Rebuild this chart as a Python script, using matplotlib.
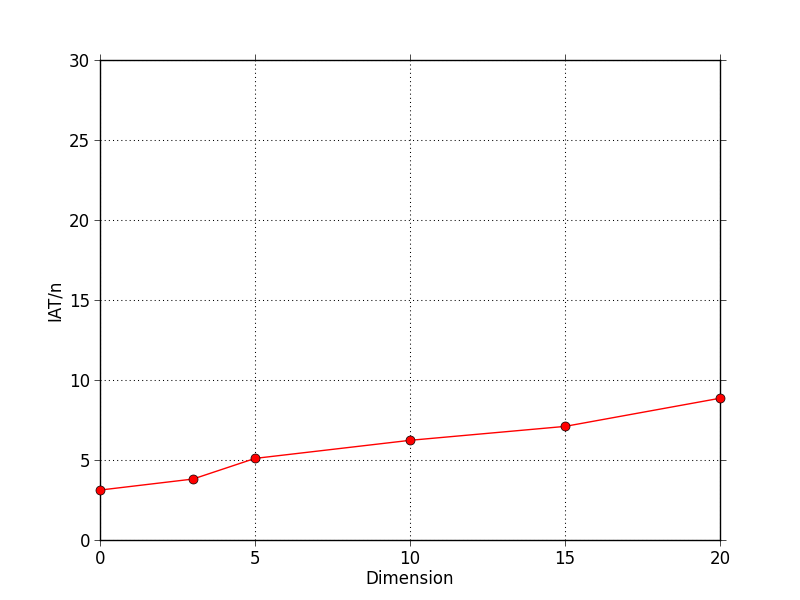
import matplotlib
matplotlib.use("Agg")
import matplotlib.pyplot as plt

dimension = [0, 3, 5, 10, 15, 20]
iat_per_n = [3.12, 3.81, 5.1, 6.23, 7.1, 8.86]

plt.rcParams["font.size"] = 12

fig = plt.figure(figsize=(8, 6), dpi=100)
ax = fig.add_axes([0.125, 0.1, 0.775, 0.8])

ax.plot(dimension, iat_per_n, color="red", linewidth=1, marker="o",
        markersize=6.5, markerfacecolor="red", markeredgecolor="black",
        markeredgewidth=0.5, clip_on=False, zorder=3)

ax.set_xlim(0, 20)
ax.set_ylim(0, 30)
ax.set_xticks([0, 5, 10, 15, 20])
ax.set_yticks([0, 5, 10, 15, 20, 25, 30])
ax.set_xlabel("Dimension", labelpad=2)
ax.set_ylabel("IAT/n", labelpad=4)
ax.grid(True, color="black", linestyle=(0, (1, 3)), linewidth=0.75)
ax.tick_params(direction="out", top=True, right=True, length=4, width=0.5, pad=3)
for s in ax.spines.values():
    s.set_linewidth(1)

fig.savefig("out.png", dpi=100)
